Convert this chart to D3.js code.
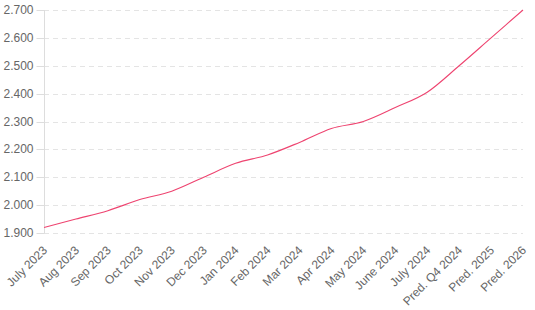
<!DOCTYPE html>
<html>
<head>
<meta charset="utf-8">
<script src="https://cdn.jsdelivr.net/npm/d3@7"></script>
<style>
  body { margin: 0; background: #fff; }
  svg { display: block; font-family: "Liberation Sans", Arial, sans-serif; }
</style>
</head>
<body>
<div id="chart"></div>
<script>
const months = ['July 2023', 'Aug 2023', 'Sep 2023', 'Oct 2023', 'Nov 2023', 'Dec 2023',
    'Jan 2024', 'Feb 2024', 'Mar 2024', 'Apr 2024', 'May 2024', 'June 2024',
    'July 2024', 'Pred. Q4 2024', 'Pred. 2025', 'Pred. 2026'];
const values = [1.920, 1.950, 1.980, 2.020, 2.050, 2.100, 2.150, 2.180, 2.225,
    2.275, 2.300, 2.350, 2.405, 2.500, 2.600, 2.700];
const yTicks = [1.9, 2.0, 2.1, 2.2, 2.3, 2.4, 2.5, 2.6, 2.7];

const width = 535, height = 310;
const plotLeft = 44, plotRight = 523, plotTop = 10, plotBottom = 233;

const svg = d3.select('#chart').append('svg')
    .attr('width', width)
    .attr('height', height);

const x = d3.scalePoint().domain(months).range([plotLeft, plotRight]);
const y = d3.scaleLinear().domain([1.9, 2.7]).range([plotBottom, plotTop]);

// Grid lines (dashed)
svg.append('g')
    .selectAll('line')
    .data(yTicks)
    .join('line')
    .attr('x1', plotLeft)
    .attr('x2', plotRight)
    .attr('y1', d => Math.round(y(d)) + 0.5)
    .attr('y2', d => Math.round(y(d)) + 0.5)
    .attr('stroke', '#e4e4e4')
    .attr('stroke-dasharray', '5,4');

// Y axis
const yAxis = svg.append('g')
    .attr('transform', `translate(${plotLeft + 0.5},0)`)
    .call(d3.axisLeft(y).tickValues(yTicks).tickSize(8).tickPadding(3)
        .tickFormat(d3.format('.3f')));
yAxis.select('.domain').attr('stroke', '#ddd').attr('d', `M0,${plotTop}V${plotBottom}`);
yAxis.selectAll('.tick line').attr('stroke', '#ddd');
yAxis.selectAll('.tick').attr('transform', d => `translate(0,${Math.round(y(d)) + 0.5})`);
yAxis.selectAll('text')
    .attr('fill', '#666')
    .attr('font-size', 12)
    .attr('font-family', '"Liberation Sans", Arial, sans-serif');

// X labels
svg.append('g')
    .selectAll('text')
    .data(months)
    .join('text')
    .attr('transform', d => `translate(${x(d) - 2},${plotBottom + 12}) rotate(-45)`)
    .attr('text-anchor', 'end')
    .attr('dy', '0.7em')
    .attr('fill', '#666')
    .attr('font-size', 12)
    .text(d => d);

// Line
const line = d3.line()
    .x((d, i) => x(months[i]))
    .y(d => y(d))
    .curve(d3.curveMonotoneX);

svg.append('path')
    .datum(values)
    .attr('d', line)
    .attr('fill', 'none')
    .attr('stroke', '#ee4470')
    .attr('stroke-width', 1.1);
</script>
</body>
</html>
